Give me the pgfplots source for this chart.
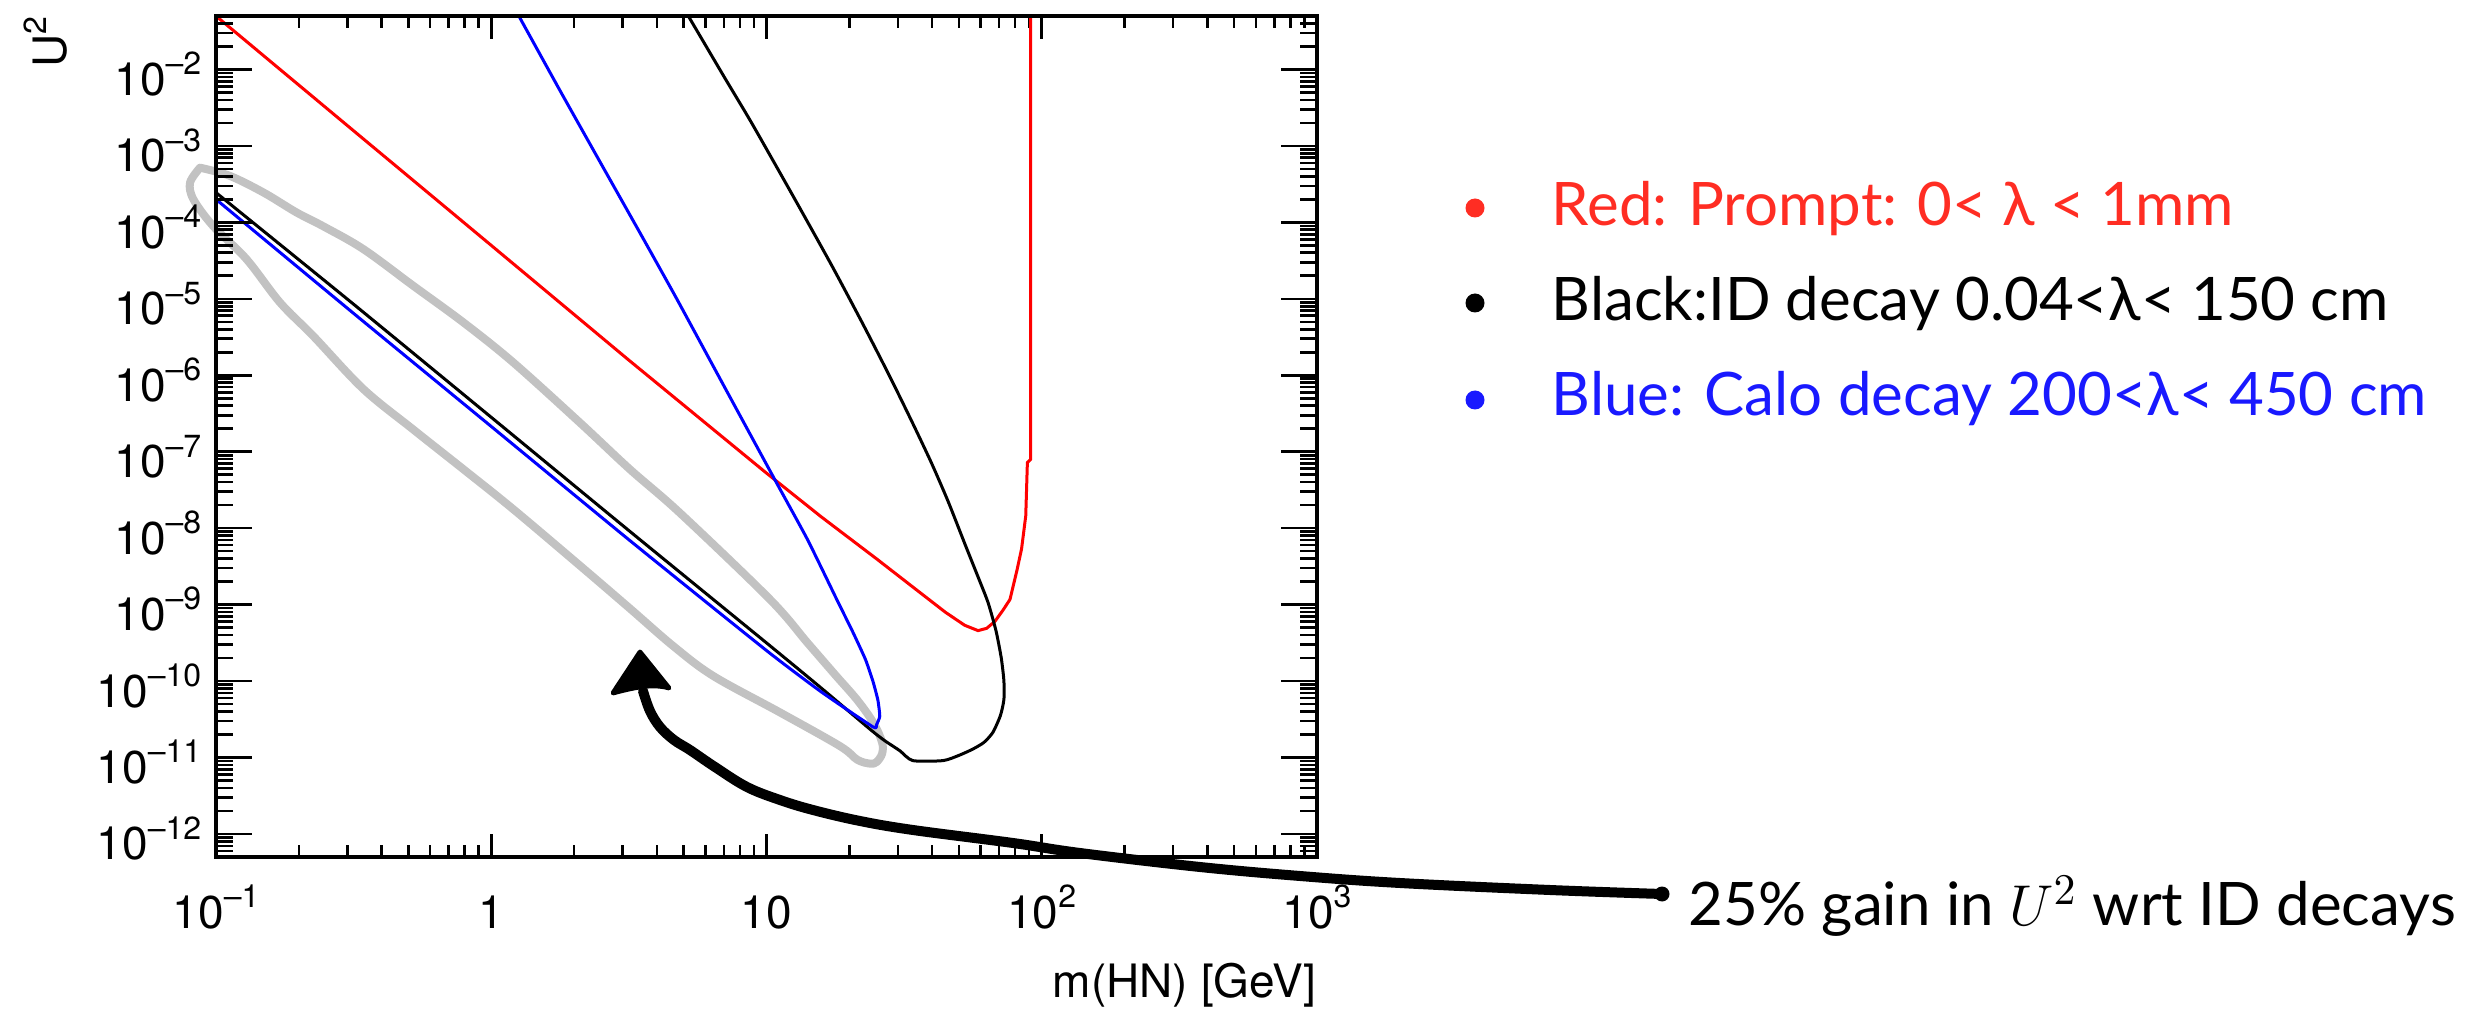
\documentclass[border=0pt]{standalone}
\usepackage{fontspec}
\setmainfont{TeX Gyre Heros}
\newfontfamily\legfont{Lato}
\usepackage{pgfplots}
\pgfplotsset{compat=1.18}

\definecolor{rootred}{RGB}{255,0,0}
\definecolor{rootblue}{RGB}{0,0,255}
\definecolor{hand}{RGB}{194,194,194}
\definecolor{legred}{RGB}{255,45,35}
\definecolor{legblue}{RGB}{25,25,255}

% ROOT-style exponent in the text font
\newcommand\ex[1]{\raisebox{0.45em}{\fontsize{8}{8}\selectfont #1}}
\newcommand\dec[1]{10\ex{\textendash#1}}

\begin{document}
\begin{tikzpicture}
\useasboundingbox (0,0) rectangle (622.25pt,252.25pt);

% frame with the x ticks and the curves
\begin{axis}[
  at={(54pt,38pt)}, anchor=south west,
  scale only axis, width=275.25pt, height=210.25pt,
  xmode=log, ymode=log,
  xmin=0.1, xmax=1000, ymin=5e-13, ymax=5e-2,
  axis line style={line width=0.875pt},
  tick align=inside,
  tick style={line width=0.65pt, black},
  tick label style={font=\fontsize{11.5}{11.5}\selectfont},
  clip=false,
  major tick length=5.75pt, minor tick length=3pt,
  xtick={0.1,1,10,100,1000},
  xticklabels={\dec{1},1,10,10\ex{2},10\ex{3}},
  minor xtick={0.2,0.3,0.4,0.5,0.6,0.7,0.8,0.9,2,3,4,5,6,7,8,9,
               20,30,40,50,60,70,80,90,200,300,400,500,600,700,800,900},
  xticklabel style={anchor=base, inner sep=0pt, yshift=-17.75pt},
  ytick=\empty,
  xlabel={m(HN) [GeV]},
  every axis x label/.style={at={(rel axis cs:1,0)}, yshift=-35pt,
    anchor=base east, inner sep=0pt, font=\fontsize{11.5}{11.5}\selectfont},
]
% hand-drawn highlight around the ID / calo lower edges
\addplot[hand, line width=2pt, smooth, tension=0.55, line cap=round, line join=round] coordinates {
  (0.0875,5.19e-4) (0.112,4.07e-4) (0.149,2.45e-4) (0.196,1.35e-4) (0.245,8.91e-5)
  (0.343,4.47e-5) (0.521,1.48e-5) (0.793,4.90e-6) (1.20,1.48e-6) (2.10,2.40e-7)
  (3.19,5.89e-8) (4.85,1.58e-8) (10.3,1.17e-9) (14.1,3.16e-10) (17.8,1.20e-10)
  (21.4,5.62e-11) (24.5,2.82e-11) (26.3,1.58e-11) (26.3,1.12e-11) (25.1,8.71e-12)
  (23.8,8.32e-12) (21.4,9.33e-12) (18.5,1.41e-11) (11.2,3.89e-11) (6.40,1.17e-10)
  (4.58,2.88e-10) (3.19,8.91e-10) (2.10,3.24e-9) (1.20,1.78e-8) (0.793,5.89e-8)
  (0.521,1.95e-7) (0.343,6.61e-7) (0.226,3.24e-6) (0.171,8.91e-6) (0.129,3.31e-5)
  (0.0977,8.91e-5) (0.0828,2.0e-4) (0.0805,3.31e-4) (0.0875,5.19e-4)
};
% prompt
\addplot[rootred, line width=0.75pt, line join=round] coordinates {
  (0.1,5.0e-2) (0.316,1.58e-3) (1,5.0e-5) (3.16,1.58e-6) (10,5.25e-8)
  (15.8,1.41e-8) (25.1,3.98e-9) (35.5,1.51e-9) (44.7,7.94e-10) (52.5,5.37e-10)
  (58.7,4.57e-10) (63.1,4.90e-10) (67.6,6.03e-10) (72.4,8.51e-10) (76.7,1.17e-9)
  (81.3,2.82e-9) (84.5,5.37e-9) (87.5,1.45e-8) (88.7,7.24e-8) (91.2,7.94e-8)
  (91.2,5.0e-2)
};
% ID decay
\addplot[black, line width=0.75pt, smooth, tension=0.4, line join=round] coordinates {
  (5.20,5.0e-2) (7.08,7.59e-3) (8.83,2.0e-3) (12.6,2.09e-4) (17.3,2.69e-5)
  (22.4,4.68e-6) (28.0,9.77e-7) (33.9,2.40e-7) (39.8,7.08e-8) (45.7,2.24e-8)
  (52.5,6.31e-9) (58.9,2.24e-9) (63.8,1.07e-9) (68.2,4.57e-10) (71.3,2.0e-10)
  (72.9,1.0e-10) (72.9,5.75e-11) (70.8,3.55e-11) (66.5,2.14e-11) (61.7,1.58e-11)
  (56.2,1.29e-11) (50.1,1.07e-11) (43.8,9.12e-12) (34.0,9.12e-12) (30.5,1.23e-11)
  (26.9,1.66e-11) (23.8,2.34e-11) (15.8,8.13e-11) (10,3.16e-10) (3.16,9.33e-9)
  (1,2.82e-7) (0.316,8.51e-6) (0.1,2.45e-4)
};
% calorimeter decay
\addplot[rootblue, line width=0.75pt, smooth, tension=0.3, line join=round] coordinates {
  (1.26,5.0e-2) (1.78,5.25e-3) (2.53,5.50e-4) (3.55,6.31e-5) (4.72,1.0e-5)
  (7.08,6.76e-7) (10.7,4.37e-8) (14.1,7.08e-9) (18.0,1.17e-9) (20.6,4.37e-10)
  (22.9,1.91e-10) (24.4,9.77e-11) (25.4,5.62e-11) (25.8,3.47e-11) (25.1,2.69e-11)
  (24.4,2.51e-11) (15.8,7.24e-11) (10,2.51e-10) (3.16,7.08e-9) (1,2.14e-7)
  (0.316,6.46e-6) (0.1,2.0e-4)
};
\end{axis}

% same frame again, carrying the y ticks
\begin{axis}[
  at={(54pt,38pt)}, anchor=south west,
  scale only axis, width=275.25pt, height=210.25pt,
  xmode=log, ymode=log,
  xmin=0.1, xmax=1000, ymin=5e-13, ymax=5e-2,
  axis line style={line width=0.875pt},
  tick align=inside,
  tick style={line width=0.65pt, black},
  tick label style={font=\fontsize{11.5}{11.5}\selectfont},
  major tick length=9pt, minor tick length=4.25pt,
  xtick=\empty,
  ytick={1e-12,1e-11,1e-10,1e-9,1e-8,1e-7,1e-6,1e-5,1e-4,1e-3,1e-2},
  yticklabels={\dec{12},\dec{11},\dec{10},\dec{9},\dec{8},\dec{7},\dec{6},\dec{5},\dec{4},\dec{3},\dec{2}},
  minor ytick={6e-13,7e-13,8e-13,9e-13,
    2e-12,3e-12,4e-12,5e-12,6e-12,7e-12,8e-12,9e-12,
    2e-11,3e-11,4e-11,5e-11,6e-11,7e-11,8e-11,9e-11,
    2e-10,3e-10,4e-10,5e-10,6e-10,7e-10,8e-10,9e-10,
    2e-9,3e-9,4e-9,5e-9,6e-9,7e-9,8e-9,9e-9,
    2e-8,3e-8,4e-8,5e-8,6e-8,7e-8,8e-8,9e-8,
    2e-7,3e-7,4e-7,5e-7,6e-7,7e-7,8e-7,9e-7,
    2e-6,3e-6,4e-6,5e-6,6e-6,7e-6,8e-6,9e-6,
    2e-5,3e-5,4e-5,5e-5,6e-5,7e-5,8e-5,9e-5,
    2e-4,3e-4,4e-4,5e-4,6e-4,7e-4,8e-4,9e-4,
    2e-3,3e-3,4e-3,5e-3,6e-3,7e-3,8e-3,9e-3,
    2e-2,3e-2,4e-2},
  yticklabel style={anchor=base east, inner sep=0pt, xshift=-3.5pt, yshift=-6.5pt},
  ylabel={U\ex{2}},
  every axis y label/.style={at={(rel axis cs:0,1)}, xshift=-37.25pt, rotate=90,
    anchor=base east, inner sep=0pt, font=\fontsize{11.5}{11.5}\selectfont},
]
\end{axis}

% legend and annotation
\begin{scope}[x=0.25pt, y=0.25pt]
  \fill[legred]  (1475,801) circle (9.5);
  \fill[black]   (1475,706) circle (9.5);
  \fill[legblue] (1475,609) circle (9.5);
  \node[anchor=base west, inner sep=0pt, text=legred,
        font=\legfont\fontsize{15}{15}\selectfont] at (1551,783) {Red: Prompt: 0< λ < 1mm};
  \node[anchor=base west, inner sep=0pt, text=black,
        font=\legfont\fontsize{15}{15}\selectfont] at (1551,688) {Black:ID decay 0.04<λ< 150 cm};
  \node[anchor=base west, inner sep=0pt, text=legblue,
        font=\legfont\fontsize{15}{15}\selectfont] at (1551,593) {Blue: Calo decay 200<λ< 450 cm};

  \node[anchor=base west, inner sep=0pt,
        font=\legfont\fontsize{15}{15}\selectfont] at (1688,84) {25\% gain in $U^2$ wrt ID decays};

  % hand-drawn arrow
  \draw[line width=2.5pt, line cap=round, line join=round] plot[smooth, tension=0.6] coordinates {
    (643,318) (650,298) (660,282) (674,269) (690,259) (715,242) (747,222) (780,209)
    (813,199) (860,188) (913,179) (1013,166) (1080,156) (1200,142) (1300,133)
    (1400,126) (1550,119) (1662,115)};
  \filldraw[line width=1.2pt, line join=round]
    (640,357) -- (669,321) .. controls (652,326) and (632,321) .. (613,316) -- cycle;
  \fill (1662,115) circle (7.5);
\end{scope}
\end{tikzpicture}
\end{document}
